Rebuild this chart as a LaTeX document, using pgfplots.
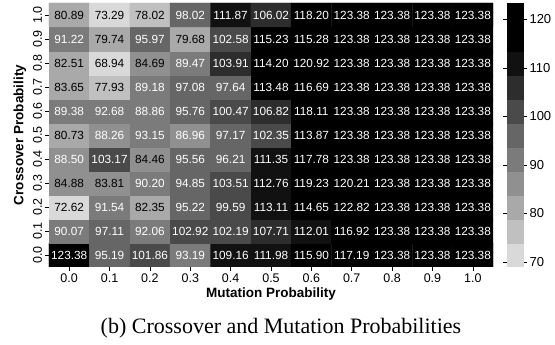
\documentclass[border=0pt]{standalone}
\usepackage{pgfplots}
\pgfplotsset{compat=1.18}
\usepackage{fontspec}
\setmainfont{Liberation Sans}
\newfontfamily\capfont{Liberation Serif}
\pgfplotstableread{
x y c
0 0 123.38
1 0 95.19
2 0 101.86
3 0 93.19
4 0 109.16
5 0 111.98
6 0 115.90
7 0 117.19
8 0 123.38
9 0 123.38
10 0 123.38
0 1 90.07
1 1 97.11
2 1 92.06
3 1 102.92
4 1 102.19
5 1 107.71
6 1 112.01
7 1 116.92
8 1 123.38
9 1 123.38
10 1 123.38
0 2 72.62
1 2 91.54
2 2 82.35
3 2 95.22
4 2 99.59
5 2 113.11
6 2 114.65
7 2 122.82
8 2 123.38
9 2 123.38
10 2 123.38
0 3 84.88
1 3 83.81
2 3 90.20
3 3 94.85
4 3 103.51
5 3 112.76
6 3 119.23
7 3 120.21
8 3 123.38
9 3 123.38
10 3 123.38
0 4 88.50
1 4 103.17
2 4 84.46
3 4 95.56
4 4 96.21
5 4 111.35
6 4 117.78
7 4 123.38
8 4 123.38
9 4 123.38
10 4 123.38
0 5 80.73
1 5 88.26
2 5 93.15
3 5 86.96
4 5 97.17
5 5 102.35
6 5 113.87
7 5 123.38
8 5 123.38
9 5 123.38
10 5 123.38
0 6 89.38
1 6 92.68
2 6 88.86
3 6 95.76
4 6 100.47
5 6 106.82
6 6 118.11
7 6 123.38
8 6 123.38
9 6 123.38
10 6 123.38
0 7 83.65
1 7 77.93
2 7 89.18
3 7 97.08
4 7 97.64
5 7 113.48
6 7 116.69
7 7 123.38
8 7 123.38
9 7 123.38
10 7 123.38
0 8 82.51
1 8 68.94
2 8 84.69
3 8 89.47
4 8 103.91
5 8 114.20
6 8 120.92
7 8 123.38
8 8 123.38
9 8 123.38
10 8 123.38
0 9 91.22
1 9 79.74
2 9 95.97
3 9 79.68
4 9 102.58
5 9 115.23
6 9 115.28
7 9 123.38
8 9 123.38
9 9 123.38
10 9 123.38
0 10 80.89
1 10 73.29
2 10 78.02
3 10 98.02
4 10 111.87
5 10 106.02
6 10 118.20
7 10 123.38
8 10 123.38
9 10 123.38
10 10 123.38
}\heat
\begin{document}
\begin{tikzpicture}
\begin{axis}[
  name=main,
  scale only axis, width=444bp, height=264bp,
  xmin=-0.5, xmax=10.5, ymin=-0.5, ymax=10.5,
  enlargelimits=false,
  xtick={0,...,10}, ytick={0,...,10},
  xticklabels={0.0,0.1,0.2,0.3,0.4,0.5,0.6,0.7,0.8,0.9,1.0},
  yticklabels={0.0,0.1,0.2,0.3,0.4,0.5,0.6,0.7,0.8,0.9,1.0},
  yticklabel style={rotate=90},
  tick label style={font=\fontsize{12.5bp}{14bp}\selectfont},
  axis line style={draw=none},
  tick align=outside, tick pos=left, major tick length=3.5bp,
  tick style={black, line width=0.6bp},
  xlabel={Mutation Probability}, ylabel={Crossover Probability},
  label style={font=\bfseries\fontsize{13.5bp}{15bp}\selectfont},
  xlabel style={yshift=2bp},
  colormap={greysteps}{rgb255=(217,217,217) rgb255=(192,192,192) rgb255=(169,169,169) rgb255=(144,144,144) rgb255=(123,123,123) rgb255=(102,102,102) rgb255=(74,74,74) rgb255=(45,45,45) rgb255=(17,17,17) rgb255=(0,0,0) rgb255=(0,0,0)},
  colormap access=piecewise constant,
  point meta min=68.94, point meta max=123.38,
  colorbar,
  colorbar style={
    at={(parent axis.north east)}, anchor=north west, xshift=5bp,
    width=17bp,
    ytick={70,80,...,120},
    axis line style={draw=none},
    tick align=outside, major tick length=3.5bp,
    yticklabel pos=right,
    tick style={black, line width=0.6bp},
    yticklabel style={font=\fontsize{13bp}{15bp}\selectfont, /pgf/number format/assume math mode=true, xshift=-1bp},
  },
]
\addplot[matrix plot*, mesh/cols=11, point meta=explicit,
  nodes near coords={\ifdim\pgfplotspointmetatransformed pt<300pt\relax\color{black}\else\color{white}\fi\pgfmathprintnumber[fixed,fixed zerofill,precision=2,assume math mode=true]{\pgfplotspointmeta}},
  every node near coord/.append style={anchor=center, font=\fontsize{11.8bp}{13bp}\selectfont, inner sep=0pt},
] table[x=x,y=y,meta=c] {\heat};
\end{axis}
\node[font=\capfont\fontsize{22bp}{26bp}\selectfont, anchor=base] at ([shift={(10bp,-66bp)}]main.south) {(b) Crossover and Mutation Probabilities};
\pgfresetboundingbox
\path[use as bounding box] ([shift={(-49bp,-78bp)}]main.south west) rectangle ([shift={(62bp,3bp)}]main.north east);
\end{tikzpicture}
\end{document}
